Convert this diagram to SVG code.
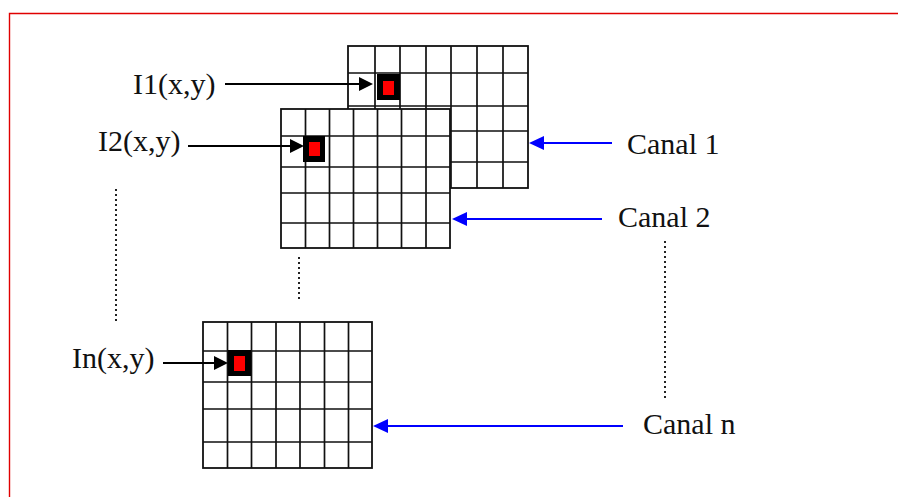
<svg xmlns="http://www.w3.org/2000/svg" width="898" height="497" viewBox="0 0 898 497">
<style>
.grid{fill:#fff;stroke:#111;stroke-width:1.8}
.gl{fill:none;stroke:#111;stroke-width:1.7}
.px{fill:#000}
.rd{fill:#f00}
.lbl{font-family:"Liberation Serif","Times New Roman",serif;font-size:30px;fill:#111}
.ab{stroke:#000;stroke-width:2;fill:none}
.au{stroke:#0000ff;stroke-width:2;fill:none}
.dot{stroke:#222;stroke-width:2;stroke-dasharray:2 3;fill:none}
</style>
<defs>
<marker id="hb" markerUnits="userSpaceOnUse" markerWidth="14" markerHeight="15" refX="9" refY="7" orient="auto">
<path d="M0,0 L14,7 L0,14 z" fill="#000"/>
</marker>
<marker id="hu" markerUnits="userSpaceOnUse" markerWidth="15" markerHeight="15" refX="10" refY="7" orient="auto">
<path d="M0,0 L15,7 L0,14 z" fill="#0000ff"/>
</marker>
</defs>
<rect width="898" height="497" fill="#fff"/>
<path d="M9.5,497 V13.5 H898" fill="none" stroke="#e00000" stroke-width="1.4"/>

<g id="canal1">
<rect class="grid" x="348" y="46" width="180" height="142"/>
<path class="gl" d="M375,46V188M400,46V188M426,46V188M451,46V188M477,46V188M503,46V188M348,73H528M348,106H528M348,131H528M348,162H528"/>
<rect class="px" x="377" y="74" width="23" height="26"/>
<rect class="rd" x="383" y="81" width="11" height="14"/>
</g>

<g id="canal2">
<rect class="grid" x="281" y="109" width="169" height="139"/>
<path class="gl" d="M305.5,109V248M329.5,109V248M353.5,109V248M377.5,109V248M401.5,109V248M426,109V248M281,136H450M281,167H450M281,193H450M281,223H450"/>
<rect class="px" x="303" y="136" width="22" height="26"/>
<rect class="rd" x="309" y="142" width="11" height="14"/>
</g>

<g id="canaln">
<rect class="grid" x="203" y="322" width="169" height="146"/>
<path class="gl" d="M227.5,322V468M251.5,322V468M276,322V468M300,322V468M324.5,322V468M348.5,322V468M203,351H372M203,382H372M203,409H372M203,442H372"/>
<rect class="px" x="228" y="350" width="23" height="26"/>
<rect class="rd" x="234" y="356" width="11" height="15"/>
</g>

<g id="labels">
<text class="lbl" x="133" y="94">I1(x,y)</text>
<text class="lbl" x="98" y="151">I2(x,y)</text>
<text class="lbl" x="72" y="368">In(x,y)</text>
<text class="lbl" x="627" y="154">Canal 1</text>
<text class="lbl" x="618" y="227">Canal 2</text>
<text class="lbl" x="643" y="434">Canal n</text>
</g>

<g id="connectors">
<line class="ab" x1="225" y1="84" x2="368" y2="84" marker-end="url(#hb)"/>
<line class="ab" x1="188" y1="146" x2="299" y2="146" marker-end="url(#hb)"/>
<line class="ab" x1="163" y1="363" x2="223" y2="363" marker-end="url(#hb)"/>
<line class="au" x1="612" y1="143" x2="534" y2="143" marker-end="url(#hu)"/>
<line class="au" x1="602" y1="219" x2="457" y2="219" marker-end="url(#hu)"/>
<line class="au" x1="623" y1="426" x2="378" y2="426" marker-end="url(#hu)"/>
<path class="dot" d="M116,189V323"/>
<path class="dot" d="M299,257V300"/>
<path class="dot" d="M665,241V400"/>
</g>
</svg>
